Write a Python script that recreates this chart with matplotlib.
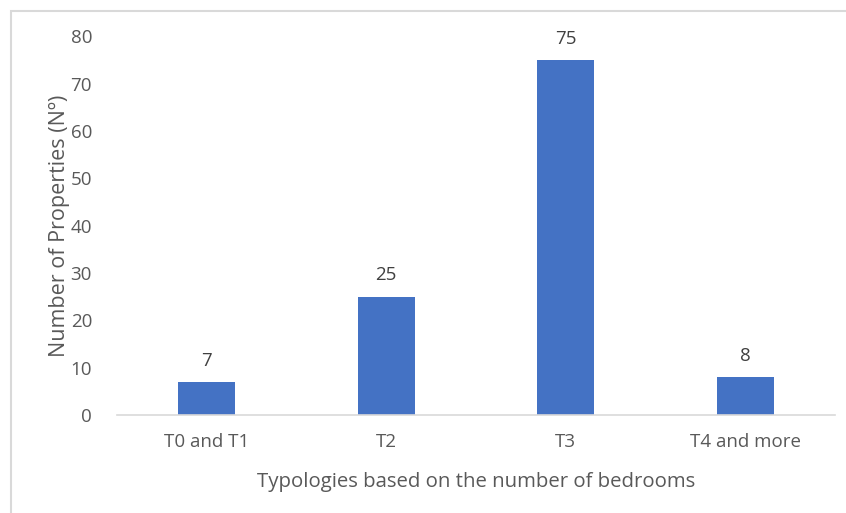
import matplotlib.pyplot as plt
from matplotlib.patches import Rectangle

categories = ["T0 and T1", "T2", "T3", "T4 and more"]
counts = [7, 25, 75, 8]

plt.rcParams["font.family"] = ["Open Sans", "DejaVu Sans"]
text_col = "#595959"
bar_col = "#4472C4"

fig = plt.figure(figsize=(8.46, 5.13), dpi=100)
ax = fig.add_axes([117 / 846, 1 - 415 / 513, (835 - 117) / 846, (415 - 36.3) / 513])

x = range(len(categories))
bars = ax.bar(x, counts, width=0.318, color=bar_col, zorder=2)
for b, v in zip(bars, counts):
    ax.text(b.get_x() + b.get_width() / 2, v + 2.6, str(v), ha="center", va="bottom",
            fontsize=13.5, color="#404040")

ax.set_xlim(-0.5, len(categories) - 0.5)
ax.set_ylim(0, 80)
ax.set_yticks(range(0, 81, 10))
ax.set_xticks(list(x))
ax.set_xticklabels(categories)
ax.tick_params(axis="both", length=0, labelsize=13.5, labelcolor=text_col)
ax.tick_params(axis="y", pad=18)
ax.tick_params(axis="x", pad=13)
for s in ["top", "right", "left"]:
    ax.spines[s].set_visible(False)
ax.spines["bottom"].set_color("#d9d9d9")
ax.spines["bottom"].set_linewidth(1.2)

ax.set_xlabel("Typologies based on the number of bedrooms", fontsize=14.7, color=text_col, labelpad=15)
ax.set_ylabel("Number of Properties (Nº)", fontsize=15.5, color=text_col, labelpad=0)

# light frame around the chart area
fig.patches.append(Rectangle((11 / 846, -0.05), 1.0, 1 - 11 / 513 + 0.05,
                             transform=fig.transFigure, fill=False,
                             edgecolor="#d9d9d9", linewidth=1.5))

fig.savefig("out.png", dpi=100)
